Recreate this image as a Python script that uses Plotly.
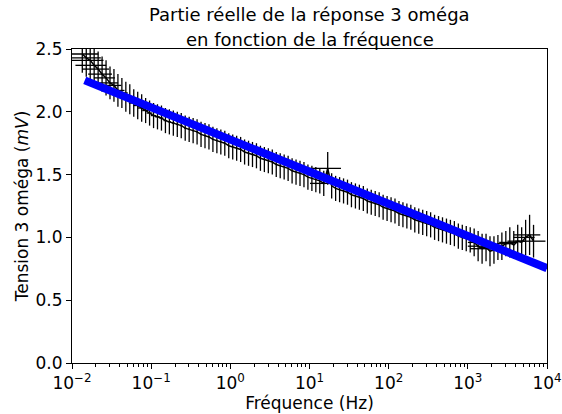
import plotly.graph_objects as go

# Frequencies (Hz)
freq = [0.01349, 0.01514, 0.01698, 0.01905, 0.02138, 0.02399, 0.02692, 0.03020, 0.03388, 0.03802,
        0.04266, 0.04786, 0.05370, 0.06026, 0.06761, 0.07586, 0.08511, 0.09550, 0.1072, 0.1202,
        0.1349, 0.1514, 0.1698, 0.1905, 0.2138, 0.2399, 0.2692, 0.3020, 0.3388, 0.3802,
        0.4266, 0.4786, 0.5370, 0.6026, 0.6761, 0.7586, 0.8511, 0.9550, 1.072, 1.202,
        1.349, 1.514, 1.698, 1.905, 2.138, 2.399, 2.692, 3.020, 3.388, 3.802,
        4.266, 4.786, 5.370, 6.026, 6.761, 7.586, 8.511, 9.550, 10.72, 12.02,
        13.49, 15.14, 16.98, 19.05, 21.38, 23.99, 26.92, 30.20, 33.88, 38.02,
        42.66, 47.86, 53.70, 60.26, 67.61, 75.86, 85.11, 95.50, 107.2, 120.2,
        134.9, 151.4, 169.8, 190.5, 213.8, 239.9, 269.2, 302.0, 338.8, 380.2,
        426.6, 478.6, 537.0, 602.6, 676.1, 758.6, 851.1, 955.0, 1072, 1202,
        1349, 1514, 1698, 1905, 2138, 2399, 2692, 3020, 3388, 3802,
        4266, 4786, 5370, 6026, 6761]

# Measured real part (mV)
tension = [2.46, 2.43, 2.41, 2.37, 2.34, 2.30, 2.27, 2.23, 2.21, 2.17,
           2.15, 2.12, 2.10, 2.07, 2.05, 2.03, 2.01, 1.99, 1.97, 1.96,
           1.95, 1.93, 1.92, 1.91, 1.90, 1.89, 1.87, 1.86, 1.85, 1.84,
           1.82, 1.81, 1.80, 1.78, 1.77, 1.76, 1.75, 1.73, 1.72, 1.71,
           1.70, 1.68, 1.67, 1.66, 1.65, 1.63, 1.62, 1.61, 1.60, 1.58,
           1.57, 1.56, 1.55, 1.53, 1.52, 1.51, 1.50, 1.48, 1.47, 1.46,
           1.45, 1.43, 1.55, 1.41, 1.39, 1.38, 1.37, 1.36, 1.34, 1.33,
           1.32, 1.31, 1.29, 1.28, 1.27, 1.26, 1.24, 1.23, 1.22, 1.21,
           1.19, 1.18, 1.17, 1.16, 1.14, 1.13, 1.12, 1.11, 1.10, 1.08,
           1.07, 1.06, 1.05, 1.04, 1.03, 1.01, 1.00, 0.99, 0.98, 0.96,
           0.93, 0.91, 0.92, 0.89, 0.90, 0.92, 0.93, 0.95, 0.96, 0.94,
           0.97, 0.96, 1.00, 1.02, 0.97]

# Vertical uncertainties (mV)
yerr = [0.15, 0.15, 0.15, 0.15, 0.14, 0.14, 0.14, 0.13, 0.13, 0.13,
        0.12, 0.12, 0.12, 0.11, 0.11, 0.11, 0.10, 0.10, 0.10, 0.10,
        0.10, 0.10, 0.10, 0.10, 0.10, 0.10, 0.10, 0.10, 0.10, 0.10,
        0.10, 0.10, 0.10, 0.10, 0.10, 0.10, 0.10, 0.10, 0.10, 0.10,
        0.10, 0.10, 0.10, 0.10, 0.10, 0.10, 0.10, 0.10, 0.10, 0.10,
        0.10, 0.10, 0.10, 0.10, 0.10, 0.10, 0.10, 0.10, 0.10, 0.10,
        0.10, 0.10, 0.13, 0.10, 0.10, 0.10, 0.10, 0.10, 0.10, 0.10,
        0.10, 0.10, 0.10, 0.10, 0.10, 0.10, 0.10, 0.10, 0.10, 0.10,
        0.10, 0.10, 0.10, 0.10, 0.10, 0.10, 0.10, 0.10, 0.10, 0.10,
        0.10, 0.10, 0.10, 0.10, 0.10, 0.10, 0.10, 0.10, 0.10, 0.11,
        0.12, 0.12, 0.11, 0.12, 0.11, 0.10, 0.11, 0.10, 0.12, 0.11,
        0.13, 0.12, 0.14, 0.16, 0.13]

# Horizontal uncertainties (Hz): default value, with larger ones at specific frequencies
xerr_default = 0.008
xerr_special = {15.14: 5, 16.98: 8, 1202: 200, 1349: 350, 1514: 450, 1698: 300,
                3020: 700, 3388: 900, 4266: 1100, 5370: 1600, 6026: 2200, 6761: 2800}

# Fitted straight line (log-linear)
fit_freq = [0.0145, 10000]
fit_tension = [2.25, 0.755]

title_lines = ["Partie réelle de la réponse 3 oméga", "en fonction de la fréquence"]

xerr = [xerr_special.get(f, xerr_default) for f in freq]

FONT = "DejaVu Sans"
FS = 17

fig = go.Figure()
fig.add_trace(go.Scatter(
    x=freq, y=tension, mode="lines",
    line=dict(color="black", width=1.5),
    error_y=dict(type="data", array=yerr, color="black", thickness=1.3, width=0),
    error_x=dict(type="data", array=xerr, color="black", thickness=1.3, width=0),
    showlegend=False, hoverinfo="skip",
))
fig.add_trace(go.Scatter(
    x=fit_freq, y=fit_tension, mode="lines",
    line=dict(color="#0000ff", width=8),
    showlegend=False, hoverinfo="skip",
))

major = [0.01, 0.1, 1, 10, 100, 1000, 10000]
major_txt = ["10<sup>−2</sup>", "10<sup>−1</sup>", "10<sup>0</sup>", "10<sup>1</sup>",
             "10<sup>2</sup>", "10<sup>3</sup>", "10<sup>4</sup>"]
minor_vals = [m * d for d in major[:-1] for m in range(2, 10)]

fig.update_layout(
    width=562, height=414,
    margin=dict(l=72, r=15, t=49, b=51),
    paper_bgcolor="white", plot_bgcolor="white",
    font=dict(family=FONT, size=FS, color="black"),
    annotations=[
        dict(text=title_lines[0], x=0.5, xref="paper", xanchor="center",
             y=1, yref="paper", yanchor="middle", yshift=35,
             showarrow=False, font=dict(family=FONT, size=18, color="black")),
        dict(text=title_lines[1], x=0.5, xref="paper", xanchor="center",
             y=1, yref="paper", yanchor="middle", yshift=10,
             showarrow=False, font=dict(family=FONT, size=18, color="black")),
    ],
)
fig.update_xaxes(
    type="log", range=[-2, 4], automargin=False,
    tickvals=major, ticktext=major_txt,
    ticks="outside", ticklen=5, tickwidth=1, tickcolor="black",
    minor=dict(tickvals=minor_vals, ticks="outside", ticklen=2.5, tickwidth=0.8, tickcolor="black"),
    showline=True, linecolor="black", linewidth=1, mirror=True,
    showgrid=False, zeroline=False,
    title=dict(text="Fréquence (Hz)", font=dict(family=FONT, size=FS), standoff=2),
    tickfont=dict(family=FONT, size=FS),
)
fig.update_yaxes(
    range=[0, 2.5], automargin=False,
    tickvals=[0, 0.5, 1.0, 1.5, 2.0, 2.5],
    ticktext=["0.0", "0.5", "1.0", "1.5", "2.0", "2.5"],
    ticks="outside", ticklen=5, tickwidth=1, tickcolor="black",
    showline=True, linecolor="black", linewidth=1, mirror=True,
    showgrid=False, zeroline=False,
    title=dict(text="Tension 3 oméga (<i>mV</i>)", font=dict(family=FONT, size=FS), standoff=2),
    tickfont=dict(family=FONT, size=FS),
)

fig.write_html("out.html", config={"displayModeBar": False},
               post_script="document.body.style.margin='0';")
